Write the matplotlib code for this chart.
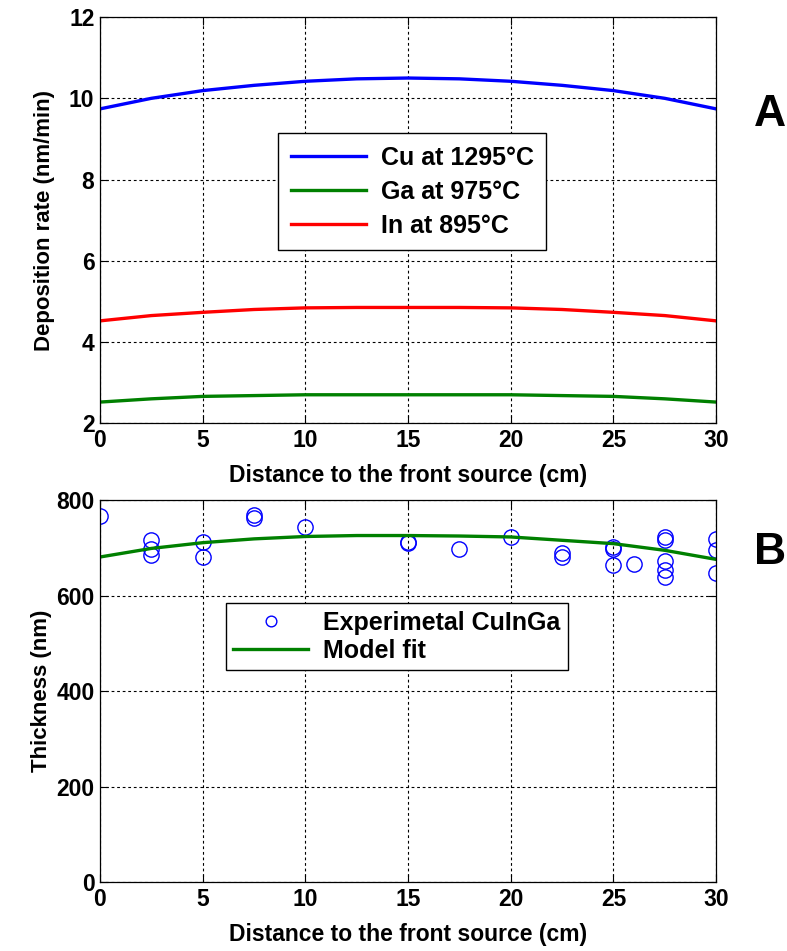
import matplotlib.pyplot as plt
import numpy as np

# Panel A: deposition rate vs distance (nm/min)
dist = [0, 2.5, 5, 7.5, 10, 12.5, 15, 17.5, 20, 22.5, 25, 27.5, 30]
cu_rate = [9.74, 10.0, 10.19, 10.32, 10.42, 10.48, 10.5, 10.48, 10.42, 10.32, 10.19, 10.0, 9.74]
ga_rate = [2.52, 2.6, 2.66, 2.68, 2.7, 2.7, 2.7, 2.7, 2.7, 2.68, 2.66, 2.6, 2.52]
in_rate = [4.52, 4.65, 4.73, 4.8, 4.84, 4.85, 4.85, 4.85, 4.84, 4.8, 4.73, 4.65, 4.52]

# Panel B: measured thickness (nm) and model fit
exp_x = [0, 2.5, 2.5, 2.5, 5, 5, 7.5, 7.5, 10, 15, 15, 17.5, 20, 22.5, 22.5,
         25, 25, 25, 26, 27.5, 27.5, 27.5, 27.5, 27.5, 30, 30, 30]
exp_y = [766, 716, 697, 686, 713, 682, 768, 763, 744, 713, 710, 697, 723, 690, 682,
         703, 698, 664, 667, 723, 716, 673, 653, 640, 719, 695, 647]
fit_y = [681, 699, 711, 719, 724, 726, 726, 725, 723, 716, 709, 695, 676]

plt.rcParams['font.family'] = ['Liberation Sans', 'DejaVu Sans']
plt.rcParams['font.weight'] = 'bold'

fig = plt.figure(figsize=(7.87, 9.51), dpi=100)
ax1 = fig.add_axes([0.127, 0.555, 0.783, 0.427])
ax2 = fig.add_axes([0.127, 0.0726, 0.783, 0.4014])

ax1.plot(dist, cu_rate, color='#0000ff', lw=2.4, label='Cu at 1295\u00b0C')
ax1.plot(dist, ga_rate, color='#008000', lw=2.4, label='Ga at 975\u00b0C')
ax1.plot(dist, in_rate, color='#ff0000', lw=2.4, label='In at 895\u00b0C')
ax1.set_ylim(2, 12)
ax1.set_yticks([2, 4, 6, 8, 10, 12])
ax1.set_ylabel('Deposition rate (nm/min)', fontsize=16, fontweight='bold', labelpad=10)
leg1 = ax1.legend(loc='upper left', bbox_to_anchor=(0.289, 0.714), borderaxespad=0,
                  prop={'weight': 'bold', 'size': 18},
                  handlelength=3.0, handletextpad=0.6, borderpad=0.5, labelspacing=0.4,
                  fancybox=False, framealpha=1)
leg1.get_frame().set_edgecolor('black')

ax2.plot(exp_x, exp_y, 'o', mfc='none', mec='#0000ff', ms=11, mew=1.0, label='Experimetal CuInGa')
ax2.plot(dist, fit_y, color='#008000', lw=2.4, label='Model fit')
ax2.set_ylim(0, 800)
ax2.set_yticks([0, 200, 400, 600, 800])
ax2.set_ylabel('Thickness (nm)', fontsize=16, fontweight='bold', labelpad=3)
leg2 = ax2.legend(loc='upper left', bbox_to_anchor=(0.2045, 0.73), borderaxespad=0,
                  prop={'weight': 'bold', 'size': 18},
                  handlelength=3.0, handletextpad=0.6, borderpad=0.3, labelspacing=0.15,
                  fancybox=False, framealpha=1, markerscale=0.7)
leg2.get_frame().set_edgecolor('black')

for ax in (ax1, ax2):
    ax.set_xlim(0, 30)
    ax.set_xticks([0, 5, 10, 15, 20, 25, 30])
    ax.set_xlabel('Distance to the front source (cm)', fontsize=16.5, fontweight='bold', labelpad=9)
    ax.grid(True, color='black', linestyle=(0, (2.5, 2.5)), linewidth=0.8)
    ax.tick_params(direction='in', top=True, right=True, labelsize=16.5, length=6, pad=4)
    for s in ax.spines.values():
        s.set_linewidth(0.9)
    for lab in ax.get_xticklabels() + ax.get_yticklabels():
        lab.set_fontweight('bold')

fig.text(770 / 787, 1 - 115 / 951, 'A', fontsize=32, fontweight='bold', ha='center', va='center')
fig.text(770 / 787, 1 - 553 / 951, 'B', fontsize=32, fontweight='bold', ha='center', va='center')

fig.savefig('out.png', dpi=100)
